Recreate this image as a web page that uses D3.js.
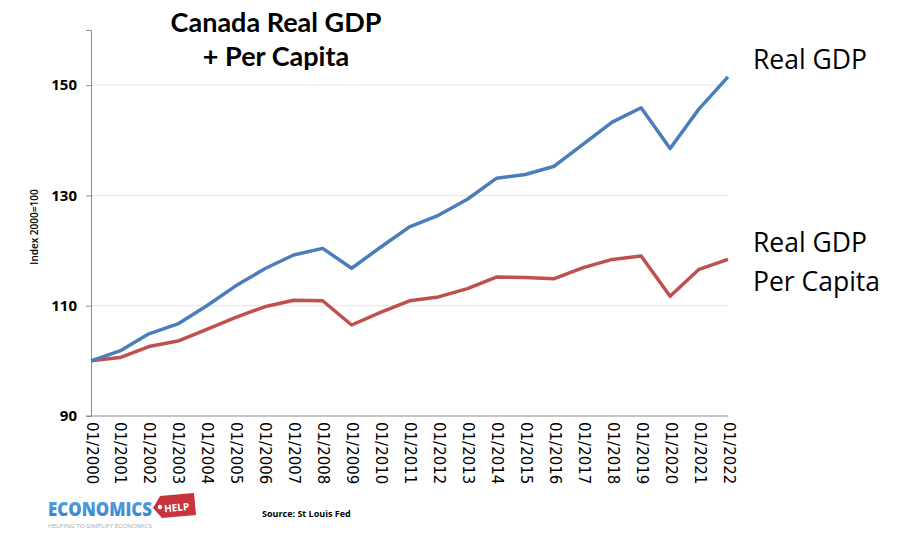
<!DOCTYPE html>
<html><head><meta charset="utf-8">
<script src="https://cdn.jsdelivr.net/npm/d3@7"></script>
<style>html,body{margin:0;padding:0;background:#fff;}svg{display:block;}</style>
</head><body>
<svg id="chart" width="900" height="535"></svg>
<script>
const years = ["01/2000","01/2001","01/2002","01/2003","01/2004","01/2005","01/2006","01/2007","01/2008","01/2009","01/2010","01/2011","01/2012","01/2013","01/2014","01/2015","01/2016","01/2017","01/2018","01/2019","01/2020","01/2021","01/2022"];
const realGDP = [100, 101.8, 104.9, 106.7, 110.0, 113.6, 116.7, 119.2, 120.4, 116.8, 120.6, 124.3, 126.4, 129.3, 133.1, 133.8, 135.3, 139.3, 143.3, 145.9, 138.5, 145.7, 151.5];
const perCapita = [100, 100.6, 102.6, 103.6, 105.7, 107.9, 109.8, 111.0, 110.9, 106.5, 108.8, 110.9, 111.6, 113.1, 115.2, 115.1, 114.9, 116.9, 118.4, 119.0, 111.7, 116.6, 118.4];
const yTicks = [90, 110, 130, 150];
const titleLines = ["Canada Real GDP", "+ Per Capita"];
const yLabel = "Index 2000=100";
const sourceText = "Source: St Louis Fed";

const svg = d3.select("#chart");
const mLeft = 91, mRight = 728, mTop = 30, mBottom = 416;
const x = d3.scalePoint().domain(years).range([mLeft, mRight]);
const y = d3.scaleLinear().domain([90, 160]).range([mBottom, mTop]);

// gridlines
svg.append("g").selectAll("line").data(yTicks.filter(d => d > 90)).join("line")
  .attr("x1", mLeft).attr("x2", mRight).attr("y1", d => y(d)).attr("y2", d => y(d))
  .attr("stroke", "#e3e3e3").attr("stroke-width", 1);

// y axis
const yAxis = svg.append("g").attr("transform", `translate(${mLeft},0)`)
  .call(d3.axisLeft(y).tickValues(yTicks).tickSize(5).tickPadding(9).tickFormat(d3.format("d")));
yAxis.select(".domain").attr("stroke", "#8c8c8c");
yAxis.selectAll(".tick line").attr("stroke", "#8c8c8c");
yAxis.selectAll("text").attr("font-family", "'Open Sans', sans-serif").attr("font-weight", "bold")
  .attr("font-size", 15).attr("fill", "#000");

// x axis
const xAxis = svg.append("g").attr("transform", `translate(0,${mBottom})`)
  .call(d3.axisBottom(x).tickSize(0).tickPadding(0));
xAxis.select(".domain").attr("stroke", "#8c8c8c").attr("d", `M${mLeft - 5},0H${mRight}`);
xAxis.selectAll(".tick text")
  .attr("font-family", "'DejaVu Sans', sans-serif").attr("font-size", 15).attr("fill", "#000")
  .attr("text-anchor", "start").attr("dy", null).attr("y", 0)
  .attr("transform", "translate(0,6) rotate(90)")
  .attr("dominant-baseline", "central");

// lines
const line = d3.line().x((d, i) => x(years[i])).y(d => y(d));
svg.append("path").datum(perCapita).attr("d", line).attr("fill", "none")
  .attr("stroke", "#c0504d").attr("stroke-width", 3.5).attr("stroke-linejoin", "round");
svg.append("path").datum(realGDP).attr("d", line).attr("fill", "none")
  .attr("stroke", "#4a7ebb").attr("stroke-width", 3.5).attr("stroke-linejoin", "round");

// y label
svg.append("text").attr("transform", "translate(38,227) rotate(-90)")
  .attr("text-anchor", "middle").attr("font-family", "'Open Sans', sans-serif")
  .attr("font-size", 10).attr("font-weight", 600).text(yLabel);

// title
svg.append("g").selectAll("text").data(titleLines).join("text")
  .attr("x", 276).attr("y", (d, i) => 32 + i * 34)
  .attr("text-anchor", "middle").attr("font-family", "Lato, 'Open Sans', sans-serif")
  .attr("font-weight", "bold").attr("font-size", 27).attr("fill", "#000").text(d => d);

// series labels
const lab = svg.append("g").attr("font-family", "'Open Sans', sans-serif").attr("font-size", 26.5).attr("fill", "#000");
lab.append("text").attr("x", 753).attr("y", 69).text("Real GDP");
lab.append("text").attr("x", 753).attr("y", 252).text("Real GDP");
lab.append("text").attr("x", 753).attr("y", 291).text("Per Capita");

// source
svg.append("text").attr("x", 262).attr("y", 517).attr("font-family", "'Open Sans', sans-serif")
  .attr("font-size", 9).attr("font-weight", "bold").text(sourceText);

// logo
const logo = svg.append("g");
const grad = svg.append("defs").append("linearGradient").attr("id", "lg").attr("x1", 0).attr("y1", 0).attr("x2", 0).attr("y2", 1);
grad.append("stop").attr("offset", "0%").attr("stop-color", "#5aa6e6");
grad.append("stop").attr("offset", "100%").attr("stop-color", "#2f7cc4");
logo.append("text").attr("x", 48).attr("y", 516).attr("font-family", "'Open Sans', sans-serif")
  .attr("font-weight", 800).attr("font-size", 19).attr("textLength", 104).attr("lengthAdjust", "spacingAndGlyphs")
  .attr("fill", "url(#lg)").text("ECONOMICS");
logo.append("path").attr("d", "M160,496 L194,493 L196,515 L162,518 L153,508 Z").attr("fill", "#c9343c");
logo.append("circle").attr("cx", 160).attr("cy", 507).attr("r", 2.2).attr("fill", "#fff");
logo.append("text").attr("x", 164).attr("y", 511).attr("font-family", "'Open Sans', sans-serif")
  .attr("font-weight", "bold").attr("font-size", 10).attr("fill", "#fff")
  .attr("transform", "rotate(-5,178,507)").text("HELP");
logo.append("text").attr("x", 48).attr("y", 528).attr("font-family", "'Open Sans', sans-serif")
  .attr("font-size", 6).attr("textLength", 104).attr("lengthAdjust", "spacingAndGlyphs")
  .attr("fill", "#a9a9a9").text("HELPING TO SIMPLIFY ECONOMICS");
</script>
</body></html>
